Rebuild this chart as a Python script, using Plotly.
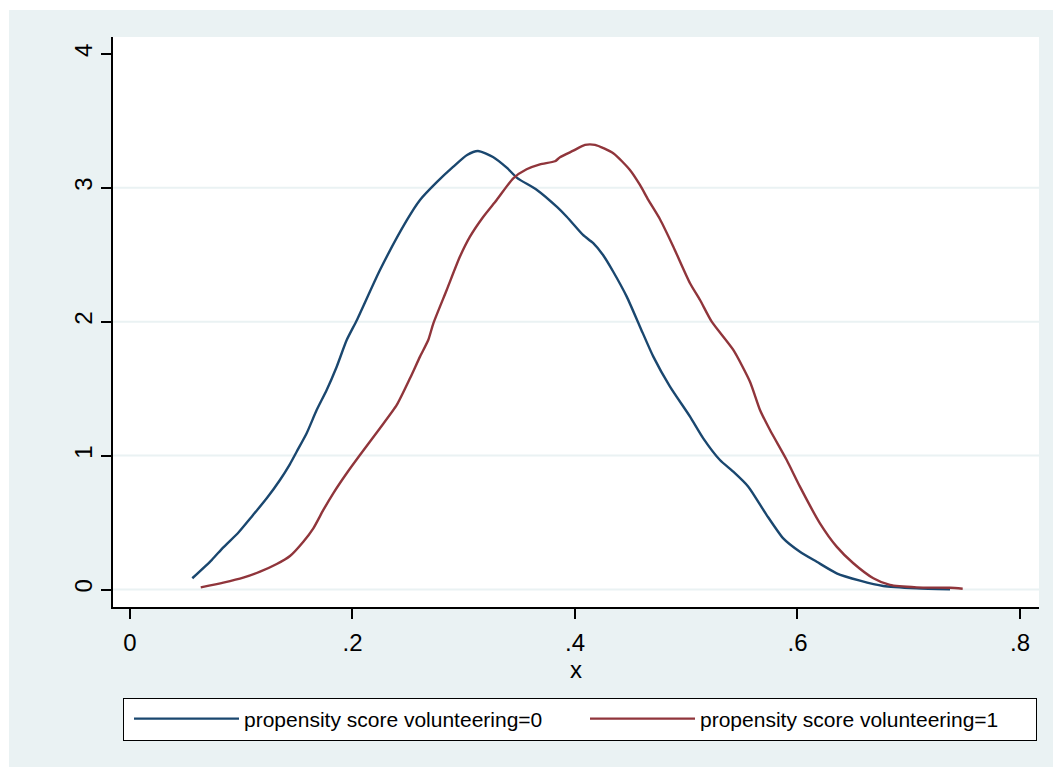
import plotly.graph_objects as go

# ---- data ----
x_v0 = [0.0560, 0.0734, 0.0839, 0.0973, 0.1094, 0.1229, 0.1348, 0.1438, 0.1498, 0.1588,
        0.1678, 0.1768, 0.1858, 0.1948, 0.2040, 0.2247, 0.2490, 0.2607, 0.2760, 0.2904,
        0.3030, 0.3128, 0.3263, 0.3389, 0.3479, 0.3658, 0.3838, 0.3928, 0.4072, 0.4162,
        0.4252, 0.4344, 0.4465, 0.4584, 0.4704, 0.4854, 0.5034, 0.5153, 0.5303, 0.5423,
        0.5558, 0.5723, 0.5872, 0.6022, 0.6173, 0.6352, 0.6562, 0.6771, 0.7071, 0.7371]
y_v0 = [0.084, 0.220, 0.315, 0.424, 0.544, 0.681, 0.818, 0.937, 1.029, 1.167,
        1.340, 1.490, 1.664, 1.863, 2.013, 2.386, 2.760, 2.909, 3.044, 3.156,
        3.245, 3.275, 3.230, 3.148, 3.074, 2.984, 2.857, 2.782, 2.648, 2.588,
        2.498, 2.373, 2.187, 1.963, 1.739, 1.515, 1.291, 1.129, 0.967, 0.880,
        0.768, 0.556, 0.382, 0.282, 0.207, 0.121, 0.066, 0.026, 0.009, 0.002]

x_v1 = [0.0636, 0.0839, 0.1018, 0.1169, 0.1319, 0.1438, 0.1558, 0.1648, 0.1738, 0.1827,
        0.1948, 0.2067, 0.2247, 0.2398, 0.2517, 0.2607, 0.2681, 0.2727, 0.2847, 0.2966,
        0.3056, 0.3176, 0.3296, 0.3445, 0.3565, 0.3685, 0.3820, 0.3865, 0.3985, 0.4090,
        0.4180, 0.4344, 0.4494, 0.4584, 0.4659, 0.4764, 0.4884, 0.5034, 0.5124, 0.5229,
        0.5423, 0.5573, 0.5663, 0.5753, 0.5903, 0.6022, 0.6202, 0.6352, 0.6502, 0.6682,
        0.6831, 0.7071, 0.7371, 0.7485]
y_v1 = [0.016, 0.051, 0.088, 0.133, 0.190, 0.250, 0.357, 0.457, 0.594, 0.718,
        0.868, 1.004, 1.204, 1.378, 1.577, 1.739, 1.863, 1.988, 2.237, 2.486,
        2.635, 2.784, 2.909, 3.071, 3.138, 3.175, 3.198, 3.228, 3.277, 3.320,
        3.320, 3.258, 3.133, 3.021, 2.909, 2.765, 2.560, 2.287, 2.162, 2.000,
        1.789, 1.552, 1.341, 1.191, 0.967, 0.768, 0.494, 0.320, 0.196, 0.084,
        0.034, 0.016, 0.013, 0.006]

series_names = ["propensity score volunteering=0", "propensity score volunteering=1"]
x_ticks = [0, 0.2, 0.4, 0.6, 0.8]
x_tick_labels = ["0", ".2", ".4", ".6", ".8"]
y_ticks = [0, 1, 2, 3, 4]
y_tick_labels = ["0", "1", "2", "3", "4"]
y_grid = [0, 1, 2, 3]
x_title = "x"
y_title = "kdensity propensity"

# ---- styling ----
OFF = 8                       # default body margin of the html page
W, H = 1061 - OFF, 771 - OFF
# plot area in page pixels: x 113..1039, y 37..607
L, R, T, B = 113 - OFF, 1061 - 1039, 37 - OFF, 771 - 607
PW, PH = W - L - R, H - T - B
BLUE = "#1a476f"
RED = "#90353b"
BG = "#eaf2f3"
FONT = "Liberation Sans, Arial, sans-serif"


def px_x(p):
    """page pixel x -> paper fraction"""
    return (p - OFF - L) / PW


def px_y(p):
    """page pixel y -> paper fraction"""
    return (H - B - (p - OFF)) / PH


fig = go.Figure()
fig.add_trace(go.Scatter(x=x_v0, y=y_v0, mode="lines", name=series_names[0],
                         line=dict(color=BLUE, width=2.4, shape="spline", smoothing=0.6)))
fig.add_trace(go.Scatter(x=x_v1, y=y_v1, mode="lines", name=series_names[1],
                         line=dict(color=RED, width=2.4, shape="spline", smoothing=0.6)))

shapes = [
    dict(type="rect", xref="paper", yref="paper", x0=px_x(9), x1=px_x(1061),
         y0=px_y(767), y1=px_y(10), fillcolor=BG, line=dict(width=0), layer="below"),
    dict(type="rect", xref="paper", yref="paper", x0=0, x1=1, y0=0, y1=1,
         fillcolor="white", line=dict(width=0), layer="below"),
]
for g in y_grid:
    shapes.append(dict(type="line", xref="paper", yref="y", x0=0, x1=1, y0=g, y1=g,
                       line=dict(color=BG, width=2), layer="below"))

fig.update_layout(
    width=W, height=H,
    margin=dict(l=L, r=R, t=T, b=B, pad=0),
    paper_bgcolor="white", plot_bgcolor="white",
    font=dict(family=FONT, color="black", size=21),
    shapes=shapes,
    showlegend=True,
    legend=dict(orientation="h", x=px_x(123), xanchor="left", y=px_y(719), yanchor="middle",
                bgcolor="white", bordercolor="black", borderwidth=1,
                font=dict(family=FONT, size=21, color="black"),
                entrywidth=331, entrywidthmode="pixels", itemwidth=105, indentation=5,
                traceorder="normal"),
    xaxis=dict(range=[-0.01528, 0.8171], tickvals=x_ticks, ticktext=x_tick_labels,
               showgrid=False, zeroline=False, showline=True, linecolor="black", linewidth=1.5,
               ticks="outside", ticklen=10, tickcolor="black", tickwidth=1.5,
               ticklabelstandoff=3,
               tickfont=dict(family=FONT, size=24, color="black"),
               title=dict(text=x_title, font=dict(family=FONT, size=24, color="black"), standoff=4)),
    yaxis=dict(range=[-0.1307, 4.126], tickvals=y_ticks, ticktext=y_tick_labels,
               showgrid=False, zeroline=False, showline=True, linecolor="black", linewidth=1.5,
               ticks="outside", ticklen=10, tickcolor="black", tickwidth=1.5, tickangle=-90,
               tickfont=dict(family=FONT, size=24, color="black")),
    annotations=[dict(text=y_title, xref="paper", yref="paper", x=px_x(5), xanchor="right",
                      y=px_y(309), yanchor="middle", textangle=-90, showarrow=False,
                      font=dict(family=FONT, size=22, color="black"))],
)

fig.write_html("out.html")
